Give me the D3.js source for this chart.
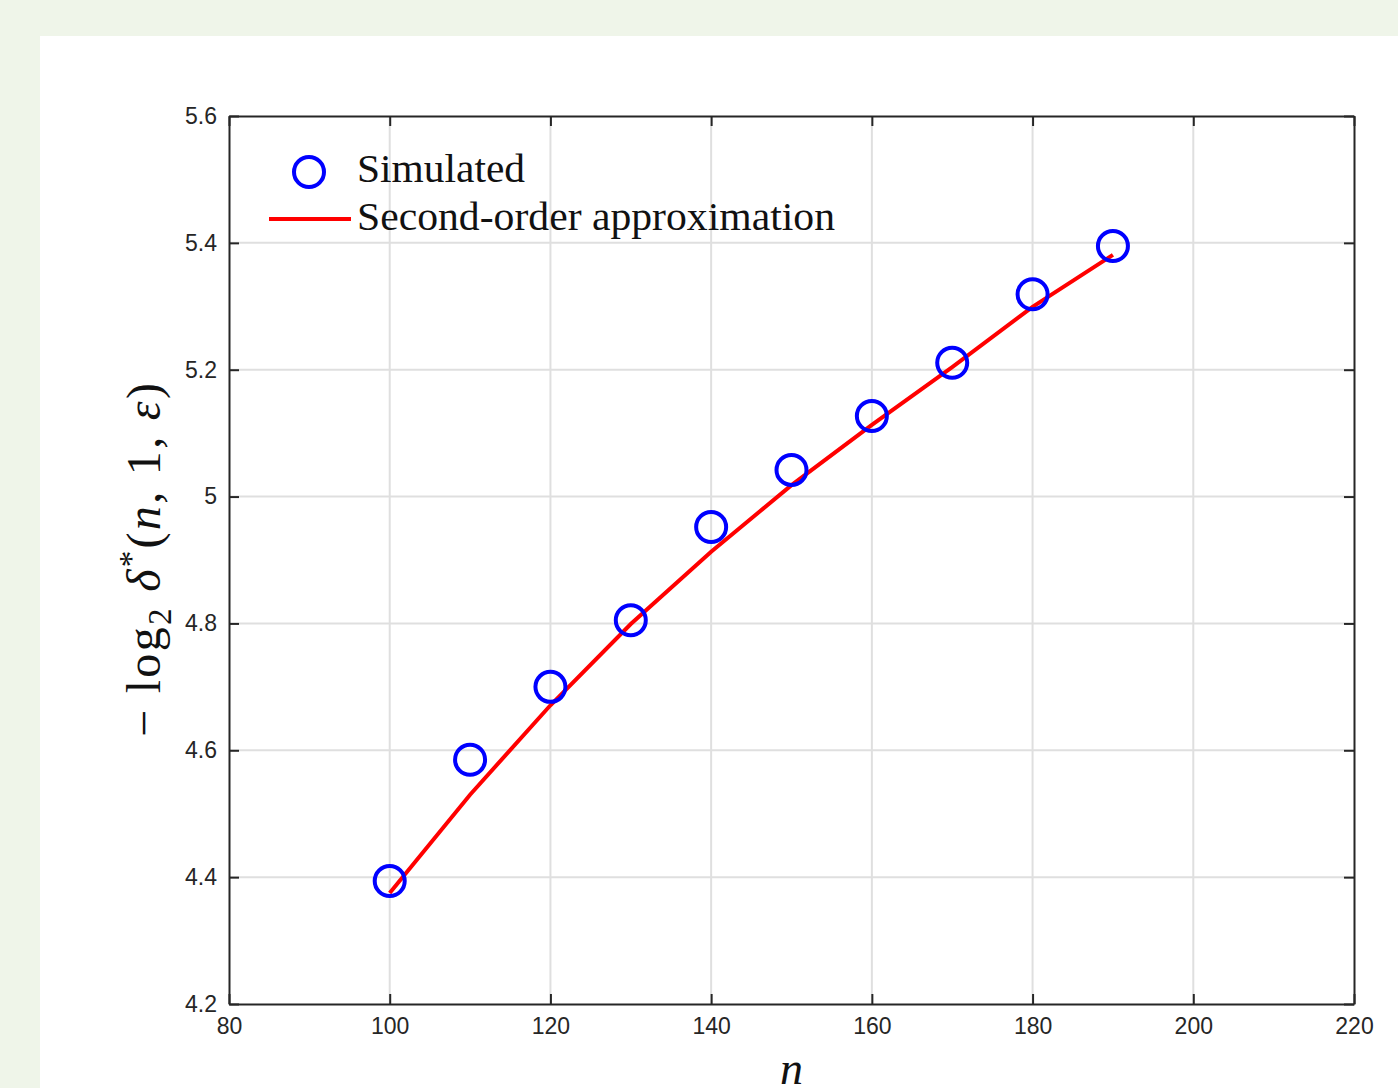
<!DOCTYPE html>
<html>
<head>
<meta charset="utf-8">
<script src="https://cdn.jsdelivr.net/npm/d3@7"></script>
<style>
  body { margin: 0; background: #eff5e9; }
  svg { display: block; }
</style>
</head>
<body>
<svg id="chart" width="1398" height="1088"></svg>
<script>
// n values
const nValues = [100, 110, 120, 130, 140, 150, 160, 170, 180, 190];
// simulated -log2 delta*
const simulated = [4.394, 4.585, 4.700, 4.805, 4.952, 5.042, 5.127, 5.211, 5.319, 5.395];
// second-order approximation
const approx = [4.375, 4.530, 4.671, 4.799, 4.913, 5.018, 5.113, 5.204, 5.299, 5.381];

const xTicks = [80, 100, 120, 140, 160, 180, 200, 220];
const yTicks = [4.2, 4.4, 4.6, 4.8, 5, 5.2, 5.4, 5.6];
const legendLabels = ['Simulated', 'Second-order approximation'];

const svg = d3.select('#chart');
const width = +svg.attr('width');
const height = +svg.attr('height');

// white panel
svg.append('rect')
  .attr('x', 40).attr('y', 36)
  .attr('width', width - 40).attr('height', height - 36)
  .attr('fill', '#ffffff');

const margin = { top: 116, left: 229, right: 44, bottom: 84 };
const innerWidth = width - margin.left - margin.right;
const innerHeight = height - margin.top - margin.bottom;

const x = d3.scaleLinear().domain([80, 220]).range([0, innerWidth]);
const y = d3.scaleLinear().domain([4.2, 5.6]).range([innerHeight, 0]);

const g = svg.append('g')
  .attr('transform', `translate(${margin.left}, ${margin.top})`);

// grid
g.append('g').selectAll('line')
  .data(xTicks.slice(1, -1))
  .join('line')
  .attr('x1', d => x(d)).attr('x2', d => x(d))
  .attr('y1', 0).attr('y2', innerHeight)
  .attr('stroke', '#dfdfdf').attr('stroke-width', 2);
g.append('g').selectAll('line')
  .data(yTicks.slice(1, -1))
  .join('line')
  .attr('y1', d => y(d)).attr('y2', d => y(d))
  .attr('x1', 0).attr('x2', innerWidth)
  .attr('stroke', '#dfdfdf').attr('stroke-width', 2);

const axisColor = '#262626';
const tickFont = '"Liberation Sans", Arial, sans-serif';

// axes (ticks pointing inward)
const xAxis = g.append('g')
  .attr('transform', `translate(0, ${innerHeight})`)
  .call(d3.axisBottom(x).tickValues(xTicks).tickSizeInner(-10).tickSizeOuter(0).tickPadding(14).tickFormat(d3.format('d')));
const yAxis = g.append('g')
  .call(d3.axisLeft(y).tickValues(yTicks).tickSizeInner(-10).tickSizeOuter(0).tickPadding(12).tickFormat(d => d3.format('')(d)));
const xTop = g.append('g')
  .call(d3.axisTop(x).tickValues(xTicks).tickSizeInner(-10).tickSizeOuter(0).tickFormat(''));
const yRight = g.append('g')
  .attr('transform', `translate(${innerWidth}, 0)`)
  .call(d3.axisRight(y).tickValues(yTicks).tickSizeInner(-10).tickSizeOuter(0).tickFormat(''));

[xAxis, yAxis, xTop, yRight].forEach(a => {
  a.selectAll('path, line').attr('stroke', axisColor).attr('stroke-width', 2);
  a.selectAll('text').attr('fill', axisColor)
    .style('font-family', tickFont).style('font-size', '23px');
});

// approximation line
const line = d3.line()
  .x((d, i) => x(nValues[i]))
  .y(d => y(d));
g.append('path')
  .datum(approx)
  .attr('d', line)
  .attr('fill', 'none')
  .attr('stroke', '#ff0000')
  .attr('stroke-width', 4);

// simulated points
g.selectAll('circle.sim')
  .data(simulated)
  .join('circle')
  .attr('class', 'sim')
  .attr('cx', (d, i) => x(nValues[i]))
  .attr('cy', d => y(d))
  .attr('r', 15)
  .attr('fill', 'none')
  .attr('stroke', '#0000ff')
  .attr('stroke-width', 4);

// legend
const serif = '"Liberation Serif", "Times New Roman", serif';
const legend = svg.append('g');
legend.append('circle')
  .attr('cx', 309).attr('cy', 172).attr('r', 15)
  .attr('fill', 'none').attr('stroke', '#0000ff').attr('stroke-width', 4);
legend.append('line')
  .attr('x1', 269).attr('x2', 351).attr('y1', 219).attr('y2', 219)
  .attr('stroke', '#ff0000').attr('stroke-width', 4);
legend.append('text')
  .attr('x', 357).attr('y', 182)
  .attr('textLength', 168).attr('lengthAdjust', 'spacingAndGlyphs')
  .style('font-family', serif).style('font-size', '39px').attr('fill', '#111')
  .text(legendLabels[0]);
legend.append('text')
  .attr('x', 357).attr('y', 230)
  .attr('textLength', 478).attr('lengthAdjust', 'spacingAndGlyphs')
  .style('font-family', serif).style('font-size', '39px').attr('fill', '#111')
  .text(legendLabels[1]);

// y label
const ylab = svg.append('text')
  .attr('transform', 'translate(160, 560) rotate(-90)')
  .attr('text-anchor', 'middle')
  .attr('textLength', 354).attr('lengthAdjust', 'spacing')
  .style('font-family', serif).style('font-size', '48px').attr('fill', '#111');
ylab.append('tspan').text('− log');
ylab.append('tspan').attr('dy', 11).style('font-size', '33px').text('2');
ylab.append('tspan').attr('dy', -11).text(' ');
ylab.append('tspan').style('font-style', 'italic').text('δ');
ylab.append('tspan').attr('dy', -18).style('font-size', '33px').text('*');
ylab.append('tspan').attr('dy', 18).text('(');
ylab.append('tspan').style('font-style', 'italic').text('n');
ylab.append('tspan').text(', 1, ');
ylab.append('tspan').style('font-style', 'italic').text('ε');
ylab.append('tspan').text(')');

// x label
svg.append('text')
  .attr('x', margin.left + x(150)).attr('y', 1084)
  .attr('text-anchor', 'middle')
  .style('font-family', serif).style('font-size', '46px').style('font-style', 'italic')
  .attr('fill', '#111')
  .text('n');
</script>
</body>
</html>
